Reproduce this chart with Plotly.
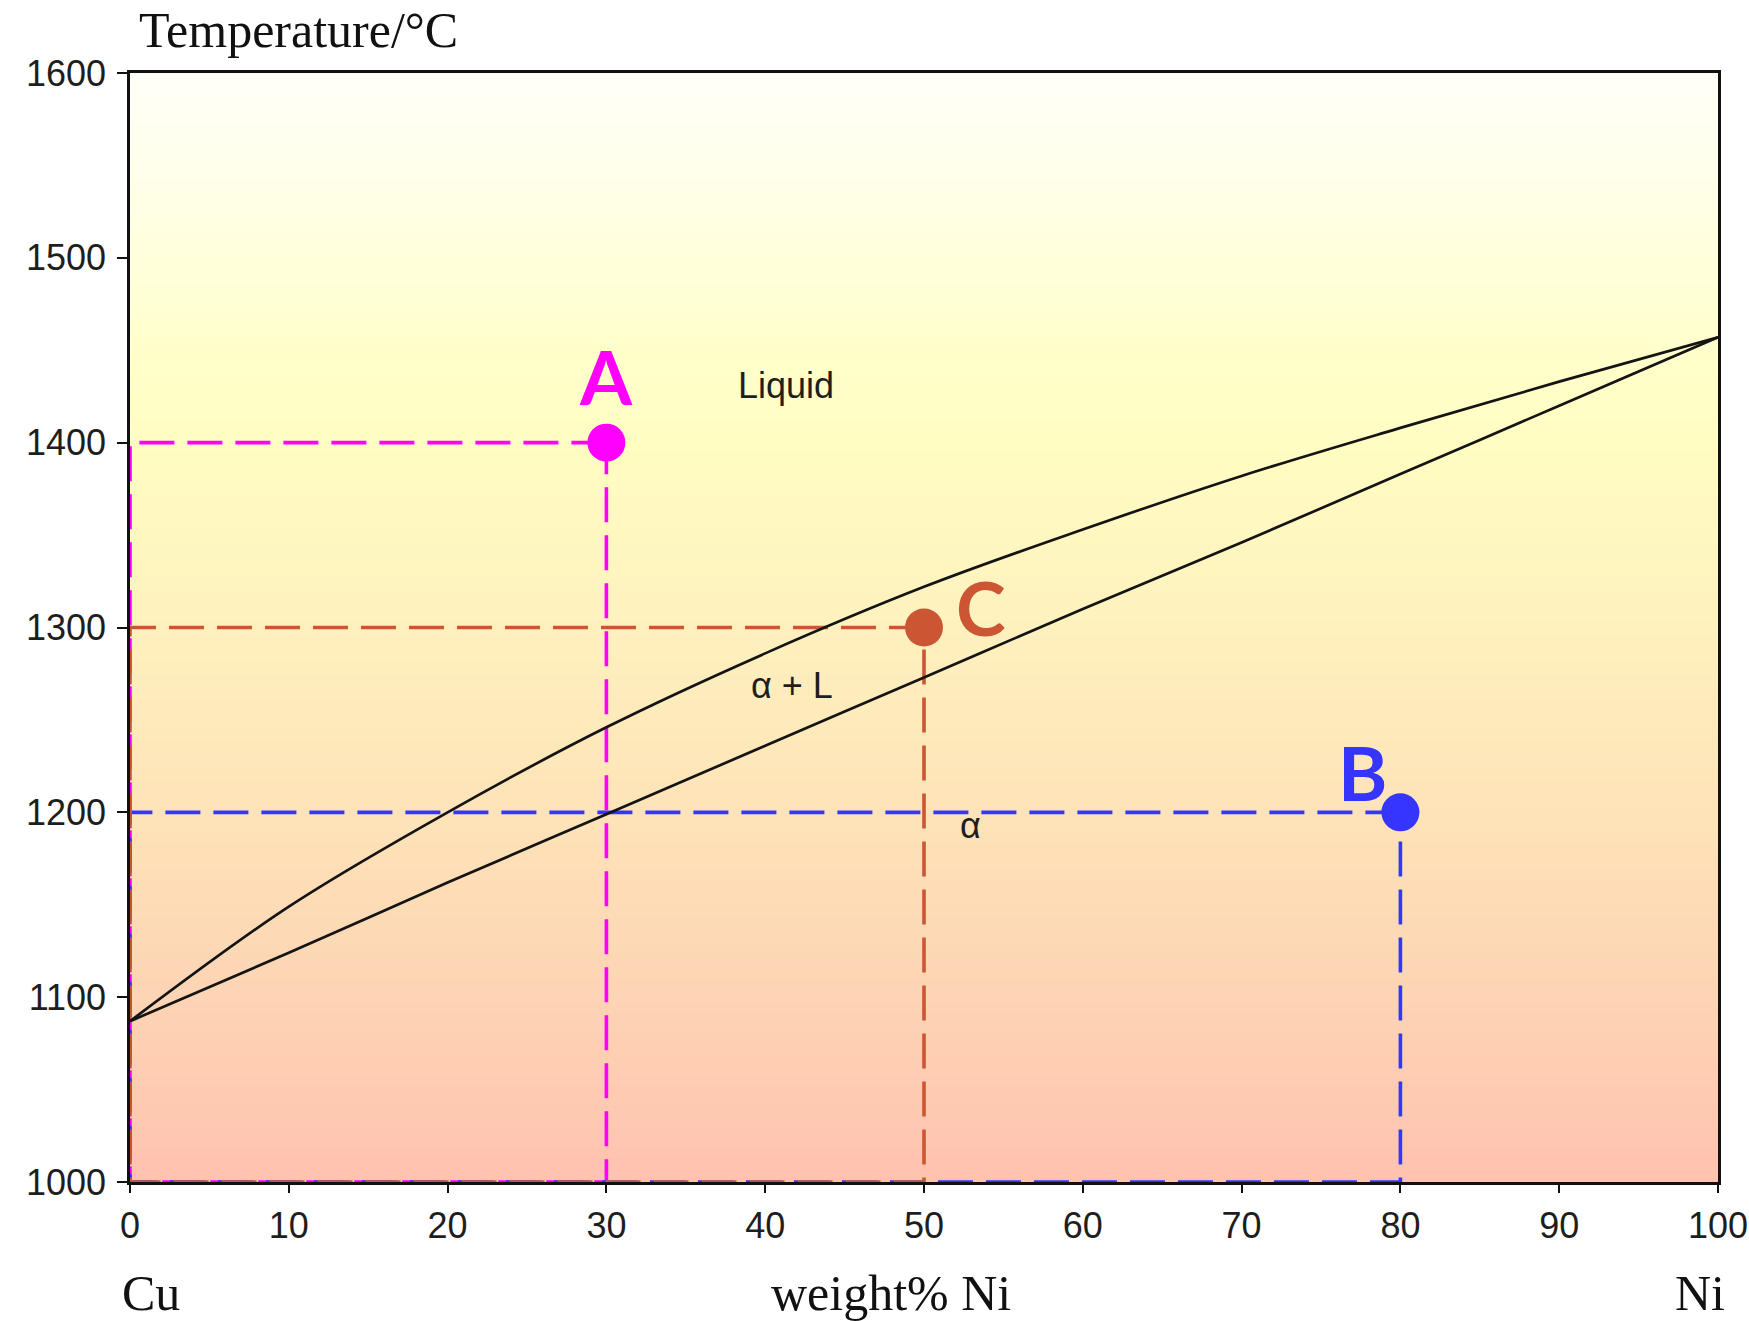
import plotly.graph_objects as go

# Cu-Ni phase diagram: liquidus / solidus curves (wt% Ni vs temperature)
composition = [0, 10, 20, 30, 40, 50, 60, 70, 80, 90, 100]
liquidus_T = [1087, 1149, 1200, 1246, 1286, 1322, 1353, 1382, 1408, 1433, 1457]
solidus_T = [1087, 1124, 1162, 1199, 1236, 1273, 1310, 1346, 1383, 1420, 1457]

# Marked alloys
point_names = ["A", "B", "C"]
point_x = [30, 80, 50]
point_T = [1400, 1200, 1300]
point_colors = ["#FF00FF", "#3535FF", "#CC5533"]
label_x = [30, 77.6, 53.6]
label_T = [1436, 1222, 1311]

# Phase region labels
region_names = ["Liquid", "α + L", "α"]
region_x = [41.3, 41.7, 52.9]
region_T = [1430.7, 1268.7, 1193]

# Axes
x_ticks = [0, 10, 20, 30, 40, 50, 60, 70, 80, 90, 100]
y_ticks = [1000, 1100, 1200, 1300, 1400, 1500, 1600]
x_range = [0, 100]
y_range = [1000, 1600]

# Background temperature shading
gradient_temps = [1000, 1100, 1200, 1300, 1400, 1450, 1500, 1550, 1600]
gradient_colors = ["#FFC2B0", "#FDD4B4", "#FEE3B8", "#FEF1BE", "#FFFDC2",
                   "#FFFFCC", "#FFFFDC", "#FFFFEC", "#FFFFF8"]

fig = go.Figure()

colorscale = [[(t - y_range[0]) / (y_range[1] - y_range[0]), c]
              for t, c in zip(gradient_temps, gradient_colors)]
fig.add_trace(go.Heatmap(
    x=x_range, y=gradient_temps,
    z=[[t, t] for t in gradient_temps],
    zmin=y_range[0], zmax=y_range[1],
    colorscale=colorscale, zsmooth="best",
    showscale=False, hoverinfo="skip",
))

# Dashed guides from each marked alloy to both axes
for name, x, t, c in zip(point_names, point_x, point_T, point_colors):
    fig.add_trace(go.Scatter(
        x=[x, 0, 0, x, x], y=[t, t, y_range[0], y_range[0], t],
        mode="lines", line=dict(color=c, width=3.6, dash="35px,13px"),
        cliponaxis=False, hoverinfo="skip", showlegend=False,
    ))

for curve in (liquidus_T, solidus_T):
    fig.add_trace(go.Scatter(
        x=composition, y=curve, mode="lines",
        line=dict(color="#141414", width=2.7, shape="spline", smoothing=1.0),
        cliponaxis=False, hoverinfo="skip", showlegend=False,
    ))

fig.add_trace(go.Scatter(
    x=point_x, y=point_T, mode="markers",
    marker=dict(size=38, color=point_colors, line=dict(width=0)),
    cliponaxis=False, hoverinfo="skip", showlegend=False,
))

annotations = []
for name, x, t, c in zip(point_names, label_x, label_T, point_colors):
    annotations.append(dict(
        x=x, y=t, xref="x", yref="y", text=f"<b>{name}</b>", showarrow=False,
        font=dict(family="Lato, Open Sans, sans-serif", size=75, color=c),
        xanchor="center", yanchor="middle",
    ))
for name, x, t in zip(region_names, region_x, region_T):
    annotations.append(dict(
        x=x, y=t, xref="x", yref="y", text=name, showarrow=False,
        font=dict(family="Liberation Sans, Arial, sans-serif", size=36, color="#1e1e1e"),
        xanchor="center", yanchor="middle",
    ))

serif = dict(family="Liberation Serif, Times New Roman, serif", size=50, color="#111111")
annotations += [
    dict(x=0.0044, y=1.0388, xref="paper", yref="paper", text="Temperature/°C",
         showarrow=False, font=serif, xanchor="left", yanchor="middle"),
    dict(x=-0.0063, y=-0.0998, xref="paper", yref="paper", text="Cu",
         showarrow=False, font=serif, xanchor="left", yanchor="middle"),
    dict(x=0.479, y=-0.0998, xref="paper", yref="paper", text="weight% Ni",
         showarrow=False, font=serif, xanchor="center", yanchor="middle"),
    dict(x=0.9887, y=-0.0998, xref="paper", yref="paper", text="Ni",
         showarrow=False, font=serif, xanchor="center", yanchor="middle"),
]

tick_font = dict(family="Liberation Sans, Arial, sans-serif", size=36, color="#1e1e1e")
fig.update_layout(
    width=1749, height=1321,
    margin=dict(l=130, r=31, t=73, b=139, autoexpand=False),
    paper_bgcolor="white", plot_bgcolor="white",
    showlegend=False,
    annotations=annotations,
    xaxis=dict(
        range=x_range, tickvals=x_ticks, ticktext=[str(v) for v in x_ticks],
        showgrid=False, zeroline=False, showline=True, mirror=True,
        linecolor="#111111", linewidth=2.5, ticks="outside", ticklen=8,
        tickwidth=2, tickcolor="#111111", tickfont=tick_font,
        ticklabelstandoff=2, layer="below traces", fixedrange=True,
        automargin=False,
    ),
    yaxis=dict(
        range=y_range, tickvals=y_ticks, ticktext=[str(v) for v in y_ticks],
        showgrid=False, zeroline=False, showline=True, mirror=True,
        linecolor="#111111", linewidth=2.5, ticks="outside", ticklen=10,
        tickwidth=2, tickcolor="#111111", tickfont=tick_font,
        ticklabelstandoff=4, layer="below traces", fixedrange=True,
        automargin=False,
    ),
)

fig.write_html("out.html")
